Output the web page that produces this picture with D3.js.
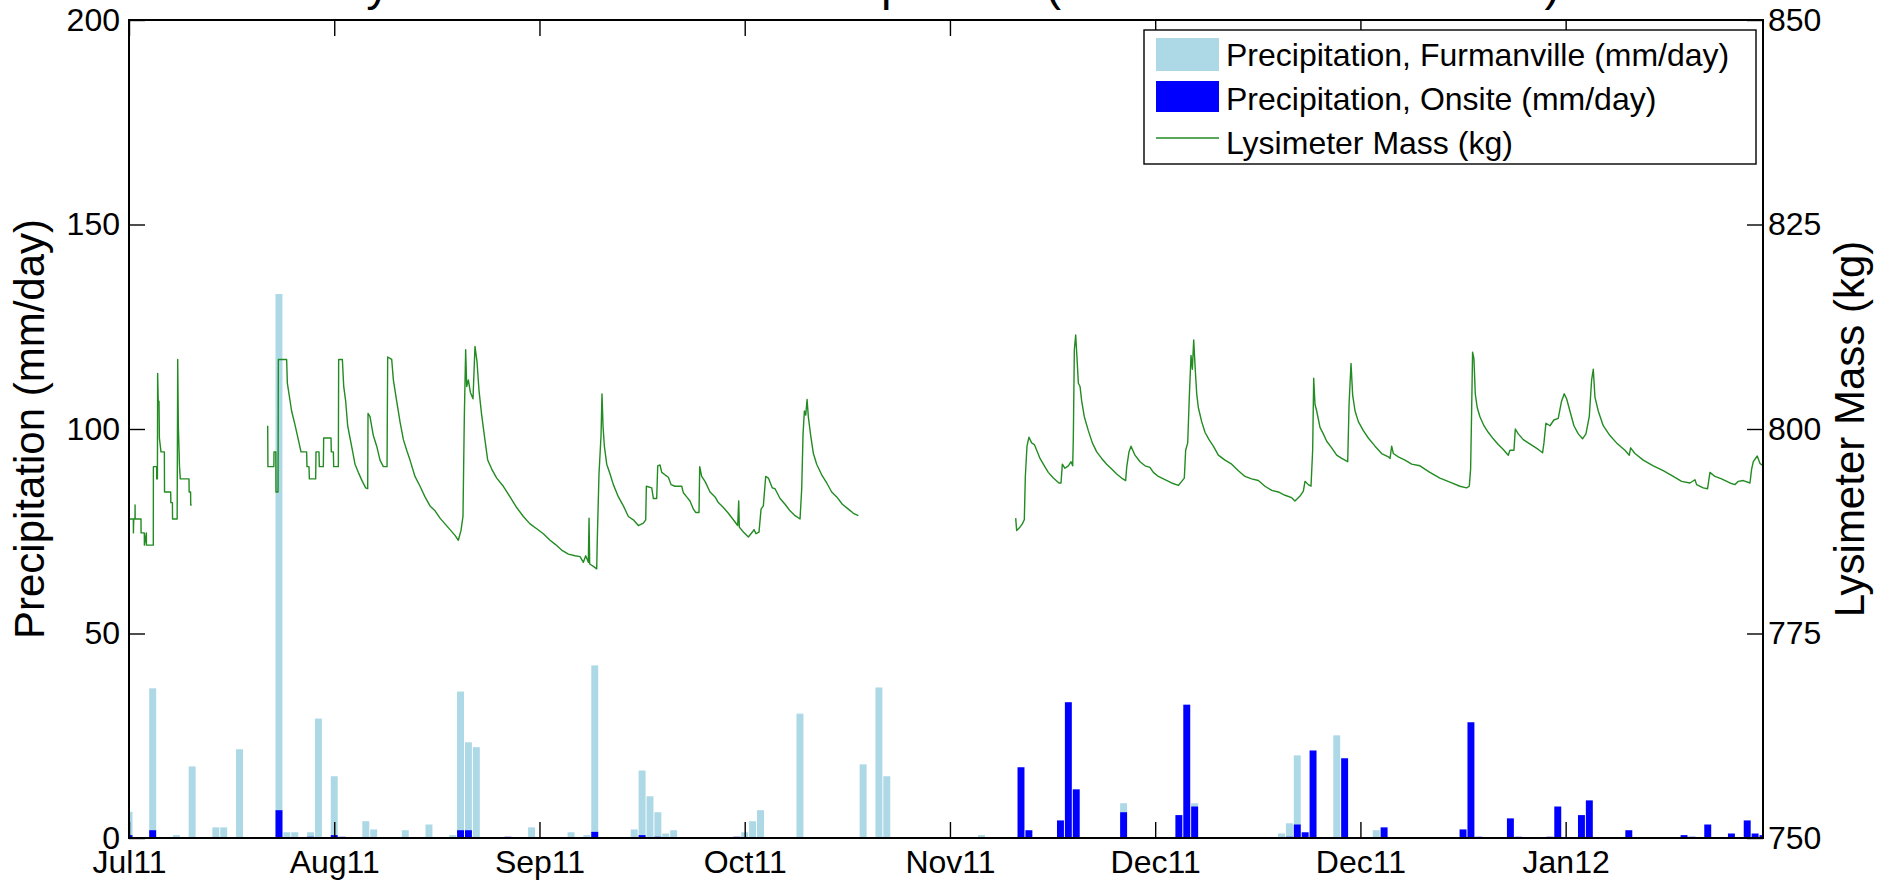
<!DOCTYPE html>
<html>
<head>
<meta charset="utf-8">
<script src="https://cdn.jsdelivr.net/npm/d3@7"></script>
<style>
  body { margin: 0; background: #fff; }
  text { font-family: "Liberation Sans", Arial, sans-serif; fill: #000; }
</style>
</head>
<body>
<div id="my_dataviz"></div>
<script>
// first day of the record, days are counted from here
var startDate = new Date(Date.UTC(2011, 6, 26));
var lastDay = 207;
var tickDays = [0, 26, 52, 78, 104, 130, 156, 182];
var precipTicks = [0, 50, 100, 150, 200];
var massTicks = [750, 775, 800, 825, 850];

var titleText = "Lysimeter Mass and Precipitation (Onsite and Furmanville)";
var legendLabels = ["Precipitation, Furmanville (mm/day)", "Precipitation, Onsite (mm/day)", "Lysimeter Mass (kg)"];

// daily precipitation, Furmanville (mm/day)
var furmDays = [0, 3, 6, 8, 11, 12, 14, 19, 20, 21, 23, 24, 26, 30, 31, 35, 38, 41, 42, 43, 44, 51,
  56, 58, 59, 64, 65, 66, 67, 68, 69, 78, 79, 80, 85, 93, 95, 96, 108, 126, 135, 146, 147, 148, 153, 158];
var furmMm = [6.4, 36.6, 0.7, 17.5, 2.6, 2.6, 21.7, 133, 1.4, 1.4, 1.4, 29.2, 15.1, 4.1, 2.1, 1.9, 3.3, 0.7, 35.8, 23.4, 22.2, 2.6,
  1.4, 0.7, 42.2, 2.1, 16.5, 10.2, 6.3, 1.1, 1.9, 1.4, 4.1, 6.8, 30.4, 18.0, 36.8, 15.1, 0.7, 8.5, 8.5, 1.1, 3.6, 20.2, 25.1, 1.9];

// daily precipitation, onsite gauge (mm/day)
var onsiteDays = [0, 3, 19, 23, 26, 27, 42, 43, 48, 59, 65, 67, 77,
  113, 114, 118, 119, 120, 126, 133, 134, 135, 147, 148, 149, 150, 154, 159,
  169, 170, 171, 175, 176, 180, 181, 184, 185, 190, 197, 198, 200, 203, 205, 206, 207];
var onsiteMm = [0.7, 1.9, 6.8, 0.3, 0.7, 0.3, 1.9, 1.9, 0.3, 1.5, 0.7, 0.3, 0.3,
  17.3, 1.9, 4.3, 33.2, 11.9, 6.3, 5.6, 32.6, 7.7, 0.3, 3.3, 1.4, 21.4, 19.5, 2.6,
  2.1, 28.3, 0.3, 4.8, 0.3, 0.3, 7.7, 5.6, 9.2, 1.9, 0.7, 0.3, 3.3, 1.1, 4.3, 1.1, 0.7];

// lysimeter mass [day, kg], three logged stretches with gaps between them
var massSeg1 = [[0, 789.0], [0.55, 789.0], [0.56, 787.3], [0.6, 789.0], [0.76, 789.0], [0.77, 790.7], [0.78, 789.0],
  [1.52, 789.0], [1.53, 787.3], [1.94, 787.3], [1.95, 785.8], [2.2, 787.3], [2.21, 785.8], [3.08, 785.8], [3.09, 795.4],
  [3.5, 795.4], [3.51, 793.9], [3.6, 793.9], [3.63, 806.8], [3.7, 803.4], [3.8, 803.4], [3.85, 798.9], [4.05, 797.2],
  [4.48, 797.2], [4.5, 792.3], [5.28, 792.3], [5.3, 791.0], [5.5, 791.0], [5.52, 789.0], [6.1, 789.0], [6.17, 808.5],
  [6.25, 800.4], [6.4, 795.4], [6.5, 793.9], [7.6, 793.9], [7.62, 792.3], [7.8, 792.3], [7.82, 790.7], [7.94, 790.7]];

var massSeg2 = [[17.57, 800.4], [17.6, 795.4], [18.35, 795.4], [18.37, 797.2], [18.6, 797.2], [18.62, 792.3], [18.88, 792.3],
  [18.92, 808.5], [19.97, 808.5], [20.06, 805.6], [20.6, 802.2], [21.03, 800.5], [21.45, 798.7], [21.79, 797.2], [22.5, 797.2],
  [22.55, 795.4], [22.8, 795.4], [22.85, 793.9], [23.65, 793.9], [23.69, 797.2], [24.07, 797.2], [24.11, 795.4], [24.62, 795.4],
  [24.66, 798.9], [25.59, 798.9], [25.63, 797.2], [25.89, 797.2], [25.93, 795.4], [26.52, 795.4], [26.56, 808.5], [27.03, 808.5],
  [27.2, 805.2], [27.45, 803.4], [27.7, 800.4], [28.0, 798.9], [28.34, 797.2], [28.63, 795.7], [29.05, 794.7], [29.56, 793.6],
  [29.98, 792.8], [30.24, 792.7], [30.28, 801.9], [30.53, 801.5], [30.95, 799.2], [31.38, 797.9], [31.8, 796.2], [32.22, 795.4],
  [32.69, 795.4], [32.77, 808.8], [33.28, 808.5], [33.49, 806.0], [33.91, 803.4], [34.33, 800.9], [34.76, 798.7], [35.18, 797.4],
  [35.6, 796.2], [36.23, 794.2], [36.87, 793.0], [37.5, 791.7], [38.13, 790.6], [38.77, 790.0], [39.4, 789.1], [40.03, 788.4],
  [40.67, 787.7], [41.3, 787.0], [41.72, 786.4], [42.06, 787.6], [42.31, 789.3], [42.48, 801.5], [42.65, 809.7], [42.78, 805.2],
  [42.99, 806.0], [43.24, 804.5], [43.58, 803.7], [43.83, 810.1], [44.09, 808.2], [44.34, 804.7], [44.68, 801.7], [45.02, 799.2],
  [45.44, 796.2], [45.95, 795.1], [46.58, 794.0], [47.42, 793.0], [48.27, 791.7], [49.11, 790.4], [49.96, 789.3], [50.8, 788.4],
  [51.65, 787.8], [52.49, 787.2], [53.34, 786.4], [54.0, 785.9], [54.81, 785.2], [55.66, 784.7], [56.5, 784.5], [57.14, 784.4],
  [57.56, 783.7], [57.86, 784.5], [58.19, 783.7], [58.28, 789.1], [58.36, 783.5], [58.83, 783.2], [59.25, 782.9], [59.33, 786.7],
  [59.54, 794.5], [59.8, 799.2], [59.92, 804.3], [60.05, 800.4], [60.22, 797.9], [60.52, 795.7], [60.94, 794.5], [61.36, 793.2],
  [62.0, 791.7], [62.63, 790.6], [63.26, 789.3], [63.89, 788.9], [64.53, 788.2], [65.16, 788.5], [65.46, 788.9], [65.54, 793.0],
  [66.22, 792.8], [66.43, 791.5], [66.85, 791.5], [66.98, 795.5], [67.27, 795.6], [67.49, 794.7], [67.9, 794.4], [68.33, 794.1],
  [68.67, 793.2], [69.17, 793.0], [70.02, 793.0], [70.23, 792.2], [70.65, 791.7], [71.07, 791.2], [71.5, 790.2], [71.79, 789.8],
  [72.21, 789.8], [72.3, 795.4], [72.55, 794.2], [72.97, 793.6], [73.61, 792.3], [74.24, 791.7], [74.66, 791.0], [75.3, 790.4],
  [75.93, 789.7], [76.56, 788.9], [77.11, 788.2], [77.24, 791.2], [77.32, 788.0], [77.83, 787.4], [78.46, 786.8], [78.97, 787.4],
  [79.18, 787.7], [79.43, 787.2], [79.81, 787.4], [80.07, 790.2], [80.36, 790.6], [80.66, 794.2], [81.0, 794.0], [81.5, 792.8],
  [81.84, 792.7], [82.48, 791.5], [83.11, 790.8], [83.74, 790.0], [84.38, 789.4], [85.01, 789.0], [85.22, 792.7], [85.39, 799.4],
  [85.56, 802.2], [85.73, 801.7], [85.9, 803.6], [86.06, 801.5], [86.36, 799.2], [86.7, 797.0], [87.12, 795.7], [87.75, 794.4],
  [88.39, 793.4], [89.02, 792.3], [89.66, 791.7], [90.37, 790.8], [91.13, 790.2], [91.77, 789.7], [92.4, 789.4]];

var massSeg3 = [[112.33, 789.1], [112.45, 787.6], [112.87, 788.0], [113.17, 788.4], [113.42, 788.9], [113.55, 794.2],
  [113.76, 797.9], [114.01, 799.0], [114.35, 798.3], [114.69, 798.1], [114.99, 797.4], [115.41, 796.4], [115.83, 795.7],
  [116.46, 794.7], [117.1, 794.0], [117.81, 793.4], [118.07, 793.4], [118.24, 795.7], [118.57, 795.2], [119.0, 795.5],
  [119.34, 796.0], [119.55, 795.5], [119.63, 798.9], [119.76, 809.7], [119.93, 811.5], [120.1, 808.6], [120.27, 805.6],
  [120.48, 805.2], [120.69, 803.4], [121.02, 801.5], [121.53, 799.8], [122.04, 798.3], [122.59, 797.2], [123.22, 796.4],
  [123.85, 795.7], [124.49, 795.1], [125.12, 794.5], [125.75, 794.0], [126.26, 793.7], [126.39, 795.3], [126.68, 797.2],
  [126.94, 797.9], [127.44, 796.8], [128.08, 796.0], [128.71, 795.5], [129.34, 795.3], [129.77, 794.7], [130.4, 794.2],
  [131.24, 793.8], [132.09, 793.4], [132.93, 793.1], [133.36, 793.6], [133.69, 794.0], [133.86, 797.4], [134.12, 798.3],
  [134.33, 804.1], [134.54, 809.0], [134.71, 807.3], [134.88, 810.9], [135.05, 807.7], [135.26, 804.3], [135.47, 802.6],
  [135.89, 800.9], [136.31, 799.6], [136.82, 798.7], [137.37, 797.9], [138.0, 796.8], [138.85, 796.2], [139.69, 795.7],
  [140.54, 794.9], [141.38, 794.2], [142.22, 793.9], [143.07, 793.7], [143.91, 793.0], [144.76, 792.5], [145.6, 792.3],
  [146.45, 791.9], [147.29, 791.6], [147.71, 791.2], [148.35, 791.8], [148.77, 792.4], [148.98, 793.6], [149.4, 793.2],
  [149.74, 793.0], [149.95, 797.4], [150.08, 806.2], [150.25, 803.0], [150.46, 802.2], [150.88, 800.2], [151.3, 799.4],
  [151.73, 798.5], [152.36, 797.7], [152.99, 796.8], [153.63, 796.4], [154.39, 796.0], [154.56, 803.0], [154.81, 808.0],
  [155.02, 804.1], [155.32, 802.2], [155.74, 800.9], [156.37, 799.8], [157.0, 798.9], [157.85, 797.9], [158.69, 797.0],
  [159.54, 796.6], [159.75, 796.4], [159.96, 797.9], [160.17, 797.0], [160.8, 796.6], [161.65, 796.2], [162.49, 795.7],
  [163.54, 795.5], [164.8, 794.7], [166.07, 794.0], [167.34, 793.5], [168.6, 793.0], [169.45, 792.8], [169.79, 793.0],
  [169.96, 795.1], [170.08, 801.7], [170.21, 809.4], [170.38, 808.6], [170.55, 804.3], [170.8, 802.6], [171.14, 801.5],
  [171.65, 800.4], [172.19, 799.6], [172.83, 798.8], [173.46, 798.1], [174.1, 797.5], [174.73, 796.8], [174.94, 797.4],
  [175.45, 797.4], [175.62, 800.0], [176.0, 799.4], [176.63, 798.7], [177.26, 798.3], [177.9, 797.9], [178.53, 797.5],
  [179.08, 797.1], [179.25, 798.3], [179.5, 800.7], [180.01, 800.4], [180.51, 801.1], [181.06, 801.3], [181.48, 803.4],
  [181.82, 804.3], [182.12, 803.7], [182.54, 802.2], [183.05, 800.4], [183.6, 799.4], [184.14, 798.8], [184.57, 799.4],
  [184.99, 801.5], [185.29, 806.0], [185.5, 807.3], [185.71, 803.9], [186.13, 802.2], [186.76, 800.4], [187.61, 799.2],
  [188.45, 798.3], [189.51, 797.4], [190.06, 796.8], [190.23, 797.7], [190.78, 797.0], [191.83, 796.2], [193.1, 795.5],
  [194.36, 794.9], [195.63, 794.2], [196.69, 793.6], [197.74, 793.4], [198.38, 793.8], [198.59, 793.2], [199.43, 792.8],
  [199.98, 792.7], [200.28, 794.7], [200.91, 794.2], [201.75, 793.9], [202.81, 793.4], [203.44, 793.2], [203.87, 793.6],
  [204.5, 793.7], [205.35, 793.4], [205.56, 795.1], [205.77, 796.0], [206.27, 796.7], [206.61, 795.8], [207.0, 795.5]];

// set the dimensions and margins of the graph
var margin = {top: 20, right: 114, bottom: 47, left: 129},
    width = 1877 - margin.left - margin.right,
    height = 885 - margin.top - margin.bottom;

var dayToDate = function(d) { return new Date(startDate.getTime() + d * 86400000); };

var svg = d3.select("#my_dataviz")
  .append("svg")
    .attr("width", width + margin.left + margin.right)
    .attr("height", height + margin.top + margin.bottom)
  .append("g")
    .attr("transform", "translate(" + margin.left + "," + margin.top + ")");

var x = d3.scaleUtc()
  .domain([startDate, dayToDate(lastDay)])
  .range([0, width]);
var yP = d3.scaleLinear().domain([0, 200]).range([height, 0]);
var yM = d3.scaleLinear().domain([750, 850]).range([height, 0]);

var barW = 0.88 * width / lastDay;

svg.append("clipPath")
    .attr("id", "plotClip")
  .append("rect")
    .attr("width", width)
    .attr("height", height);

var plot = svg.append("g").attr("clip-path", "url(#plotClip)");

// Furmanville bars behind, onsite bars in front
plot.selectAll("furmBar")
  .data(furmDays)
  .enter()
  .append("rect")
    .attr("x", function(d) { return x(dayToDate(d)) - barW / 2; })
    .attr("y", function(d, i) { return yP(furmMm[i]); })
    .attr("width", barW)
    .attr("height", function(d, i) { return height - yP(furmMm[i]); })
    .attr("fill", "#add8e6");

plot.selectAll("onsiteBar")
  .data(onsiteDays)
  .enter()
  .append("rect")
    .attr("x", function(d) { return x(dayToDate(d)) - barW / 2; })
    .attr("y", function(d, i) { return yP(onsiteMm[i]); })
    .attr("width", barW)
    .attr("height", function(d, i) { return height - yP(onsiteMm[i]); })
    .attr("fill", "#0000ff");

var massLine = d3.line()
  .x(function(d) { return x(dayToDate(d[0])); })
  .y(function(d) { return yM(d[1]); });

plot.selectAll("massSeg")
  .data([massSeg1, massSeg2, massSeg3])
  .enter()
  .append("path")
    .attr("d", massLine)
    .attr("fill", "none")
    .attr("stroke", "#228b22")
    .attr("stroke-width", 1.4)
    .attr("stroke-linejoin", "round");

// axes, ticks point inwards like matlab
var tickDates = tickDays.map(dayToDate);

var styleAxis = function(g) {
  g.attr("font-size", 32).attr("font-family", "Liberation Sans, Arial, sans-serif");
  g.select(".domain").remove();
  g.selectAll(".tick line").attr("stroke", "#000").attr("stroke-width", 1.4);
};

svg.append("g")
  .attr("transform", "translate(0," + height + ")")
  .call(d3.axisBottom(x).tickValues(tickDates).tickFormat(d3.utcFormat("%b%y"))
          .tickSizeInner(-16).tickSizeOuter(0).tickPadding(12))
  .call(styleAxis);

svg.append("g")
  .call(d3.axisTop(x).tickValues(tickDates).tickFormat("")
          .tickSizeInner(-16).tickSizeOuter(0))
  .call(styleAxis);

svg.append("g")
  .call(d3.axisLeft(yP).tickValues(precipTicks).tickSizeInner(-16).tickSizeOuter(0).tickPadding(9))
  .call(styleAxis);

svg.append("g")
  .attr("transform", "translate(" + width + ",0)")
  .call(d3.axisRight(yM).tickValues(massTicks).tickSizeInner(-16).tickSizeOuter(0).tickPadding(5))
  .call(styleAxis);

// box round the plot
svg.append("rect")
  .attr("width", width)
  .attr("height", height)
  .attr("fill", "none")
  .attr("stroke", "#000")
  .attr("stroke-width", 2);

// axis labels
svg.append("text")
  .attr("transform", "translate(" + (44 - margin.left) + "," + (height / 2) + ") rotate(-90)")
  .style("text-anchor", "middle")
  .style("font-size", "42px")
  .text("Precipitation (mm/day)");

svg.append("text")
  .attr("transform", "translate(" + (width + 1864 - 1763) + "," + (height / 2) + ") rotate(-90)")
  .style("text-anchor", "middle")
  .style("font-size", "42px")
  .text("Lysimeter Mass (kg)");

// title, mostly above the top of the picture
svg.append("text")
  .attr("x", width / 2 + 5)
  .attr("y", -margin.top)
  .style("text-anchor", "middle")
  .style("font-size", "47px")
  .text(titleText);

// legend
var legend = svg.append("g").attr("transform", "translate(" + (1144 - margin.left) + "," + (30 - margin.top) + ")");
legend.append("rect")
  .attr("width", 612)
  .attr("height", 134)
  .attr("fill", "#fff")
  .attr("stroke", "#000")
  .attr("stroke-width", 1.4);
legend.append("rect").attr("x", 12).attr("y", 8).attr("width", 63).attr("height", 33).attr("fill", "#add8e6");
legend.append("rect").attr("x", 12).attr("y", 51).attr("width", 63).attr("height", 31).attr("fill", "#0000ff");
legend.append("line").attr("x1", 12).attr("x2", 75).attr("y1", 108).attr("y2", 108)
  .attr("stroke", "#228b22").attr("stroke-width", 1.4);
legend.selectAll("legendText")
  .data(legendLabels)
  .enter()
  .append("text")
    .attr("x", 82)
    .attr("y", function(d, i) { return 36 + i * 44; })
    .style("font-size", "32px")
    .text(function(d) { return d; });
</script>
</body>
</html>
